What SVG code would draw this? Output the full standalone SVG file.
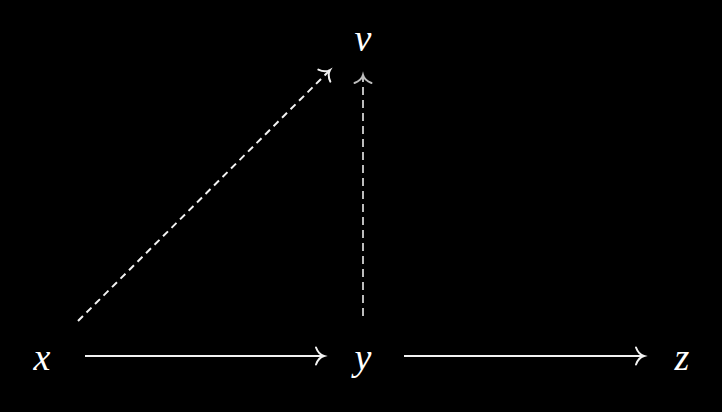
<svg xmlns="http://www.w3.org/2000/svg" width="722" height="412" viewBox="0 0 722 412">
<style>
.lbl{font-family:"Liberation Serif","Times New Roman",serif;font-style:italic;font-size:38px;fill:#ffffff;text-anchor:middle;dominant-baseline:central}
.edge{fill:none;stroke-width:2}
</style>
<defs>
<marker id="ahw" markerUnits="userSpaceOnUse" markerWidth="24" markerHeight="24" viewBox="-12 -12 24 24" refX="0" refY="0" orient="auto">
<path d="M -8,-8.5 C -6,-3 -2.5,-0.7 0,0 C -2.5,0.7 -6,3 -8,8.5" fill="none" stroke="#f2f2f2" stroke-width="2" stroke-linecap="round"/>
</marker>
<marker id="ahg" markerUnits="userSpaceOnUse" markerWidth="24" markerHeight="24" viewBox="-12 -12 24 24" refX="0" refY="0" orient="auto">
<path d="M -8,-8.5 C -6,-3 -2.5,-0.7 0,0 C -2.5,0.7 -6,3 -8,8.5" fill="none" stroke="#bdbdbd" stroke-width="2" stroke-linecap="round"/>
</marker>
</defs>
<rect width="722" height="412" fill="#000000"/>
<g id="connectors">
<line class="edge" x1="85" y1="356" x2="324" y2="356" stroke="#f2f2f2" marker-end="url(#ahw)"/>
<line class="edge" x1="404" y1="356" x2="644" y2="356" stroke="#f2f2f2" marker-end="url(#ahw)"/>
<line class="edge" x1="78" y1="321" x2="330" y2="70" stroke="#f2f2f2" stroke-dasharray="7,5" marker-end="url(#ahw)"/>
<line class="edge" x1="363" y1="316" x2="363" y2="75" stroke="#bdbdbd" stroke-dasharray="8,5" marker-end="url(#ahg)"/>
</g>
<g id="node-v"><text class="lbl" x="363" y="38">v</text></g>
<g id="node-x"><text class="lbl" x="42" y="357">x</text></g>
<g id="node-y"><text class="lbl" x="363" y="357">y</text></g>
<g id="node-z"><text class="lbl" x="682" y="357">z</text></g>
</svg>
